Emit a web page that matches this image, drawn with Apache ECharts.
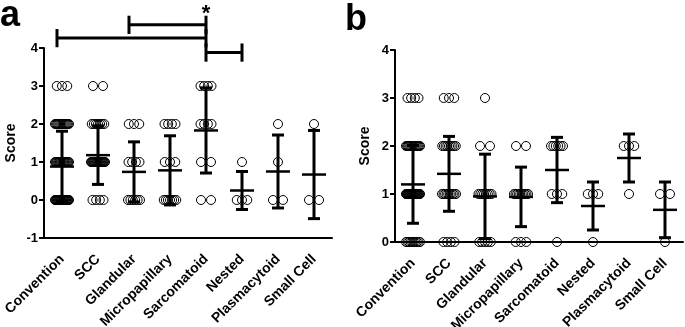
<!DOCTYPE html>
<html lang="en">
<head>
  <meta charset="UTF-8">
  <title>Score by subtype</title>
  <script src="https://cdn.jsdelivr.net/npm/echarts@6/dist/echarts.min.js"></script>
  <style>
    html, body { margin: 0; padding: 0; background: #fff; }
    #main { width: 685px; height: 327px; }
  </style>
</head>
<body>
  <div id="main"></div>
  <script>
    // categories on both panels
    var categories = ['Convention', 'SCC', 'Glandular', 'Micropapillary', 'Sarcomatoid', 'Nested', 'Plasmacytoid', 'Small Cell'];
    // score levels that the cases can take
    var scoreLevels = [0, 1, 2, 3];

    // panel a: number of cases at score 0,1,2,3 for each category
    var countsA = [[25, 18, 14, 3], [4, 22, 7, 2], [6, 4, 3, 0], [7, 3, 4, 0], [2, 2, 4, 4], [3, 1, 0, 0], [2, 1, 1, 0], [2, 0, 1, 0]];
    var meanA = [0.88, 1.18, 0.74, 0.78, 1.83, 0.25, 0.75, 0.67];
    var sdA = [0.93, 0.77, 0.79, 0.91, 1.12, 0.50, 0.96, 1.16];

    // panel b
    var countsB = [[10, 28, 14, 4], [4, 10, 9, 3], [5, 8, 2, 1], [3, 10, 2, 0], [1, 3, 6, 0], [1, 3, 0, 0], [0, 1, 3, 0], [1, 2, 0, 0]];
    var meanB = [1.20, 1.42, 0.95, 0.94, 1.50, 0.75, 1.75, 0.67];
    var sdB = [0.81, 0.78, 0.88, 0.62, 0.68, 0.50, 0.50, 0.58];

    // y ticks
    var yTicksA = [-1, 0, 1, 2, 3, 4];
    var yTicksB = [0, 1, 2, 3, 4];

    // significance brackets on panel a: all start at Sarcomatoid
    var sigHub = 4;
    var sigPairs = [[2, 4.61], [0, 4.26], [5, 3.88]];
    var sigMark = '*';

    var FONT = 'Liberation Sans';
    var chart = echarts.init(document.getElementById('main'));

    // spread the cases that share a score side by side
    function dotData(counts) {
      var out = [];
      counts.forEach(function (row, c) {
        row.forEach(function (n, k) {
          var span = n < 2 ? 0 : Math.min(14, 9 + n * 0.5);
          for (var i = 0; i < n; i++) {
            var off = n < 2 ? 0 : -span / 2 + i * span / (n - 1);
            out.push([c, scoreLevels[k], off]);
          }
        });
      });
      return out;
    }

    function barData(mean, sd) {
      return categories.map(function (name, i) { return [i, mean[i], sd[i]]; });
    }

    function renderDot(params, api) {
      var p = api.coord([api.value(0), api.value(1)]);
      return {
        type: 'circle',
        shape: { cx: p[0] + api.value(2), cy: p[1], r: 4.5 },
        style: { fill: 'none', stroke: '#000', lineWidth: 1 }
      };
    }

    function renderBar(params, api) {
      var c = api.value(0), m = api.value(1), s = api.value(2);
      var mid = api.coord([c, m]);
      var top = api.coord([c, m + s])[1];
      var bot = api.coord([c, m - s])[1];
      var x = mid[0];
      var thick = { stroke: '#000', lineWidth: 3 };
      return {
        type: 'group',
        children: [
          { type: 'line', shape: { x1: x, y1: top, x2: x, y2: bot }, style: thick },
          { type: 'line', shape: { x1: x - 6, y1: top, x2: x + 6, y2: top }, style: thick },
          { type: 'line', shape: { x1: x - 6, y1: bot, x2: x + 6, y2: bot }, style: thick },
          { type: 'line', shape: { x1: x - 12, y1: mid[1], x2: x + 12, y2: mid[1] }, style: { stroke: '#000', lineWidth: 2.5 } }
        ]
      };
    }

    function renderSig(params, api) {
      var other = api.value(0), h = api.value(1);
      var hub = api.coord([sigHub, h]);
      var end = api.coord([other, h]);
      var ex = end[0] + (other < sigHub ? -5 : 0);
      var capUp = api.coord([other, h + 0.24])[1];
      var capDn = api.coord([other, h - 0.24])[1];
      var st = { stroke: '#000', lineWidth: 3 };
      var kids = [
        { type: 'line', shape: { x1: hub[0], y1: hub[1], x2: ex, y2: hub[1] }, style: st },
        { type: 'line', shape: { x1: ex, y1: capUp, x2: ex, y2: capDn }, style: st },
        { type: 'line', shape: { x1: hub[0], y1: capUp, x2: hub[0], y2: capDn }, style: st }
      ];
      if (params.dataIndex === 0) {
        kids.push({
          type: 'text', x: hub[0], y: capUp - 2,
          style: { text: sigMark, font: 'bold 22px "' + FONT + '"', fill: '#000', align: 'center', verticalAlign: 'middle' }
        });
      }
      return { type: 'group', children: kids };
    }

    function xAxisFor(gi) {
      return {
        type: 'category', gridIndex: gi, data: categories, boundaryGap: true,
        axisLine: { onZero: false, lineStyle: { color: '#000', width: 2 } },
        axisTick: { alignWithLabel: true, length: 5, lineStyle: { color: '#000', width: 2 } },
        axisLabel: {
          interval: 0, rotate: 45, margin: 19,
          color: '#000', fontFamily: FONT, fontWeight: 'bold', fontSize: 14
        },
        splitLine: { show: false }
      };
    }

    function yAxisFor(gi, ticks, gap) {
      return {
        type: 'value', gridIndex: gi, min: ticks[0], max: ticks[ticks.length - 1], interval: 1,
        name: 'Score', nameLocation: 'middle', nameGap: gap,
        nameTextStyle: { color: '#000', fontFamily: FONT, fontWeight: 'bold', fontSize: 14 },
        axisLine: { show: true, lineStyle: { color: '#000', width: 2 } },
        axisTick: { show: true, length: 5, lineStyle: { color: '#000', width: 2 } },
        axisLabel: { margin: 6, color: '#000', fontFamily: FONT, fontWeight: 'bold', fontSize: 13 },
        splitLine: { show: false }
      };
    }

    chart.setOption({
      animation: false,
      backgroundColor: '#fff',
      grid: [
        { left: 44, top: 48, width: 288, height: 190, containLabel: false, outerBoundsMode: 'none' },
        { left: 395, top: 50, width: 288, height: 192, containLabel: false, outerBoundsMode: 'none' }
      ],
      xAxis: [xAxisFor(0), xAxisFor(1)],
      yAxis: [yAxisFor(0, yTicksA, 26), yAxisFor(1, yTicksB, 23)],
      graphic: [
        { type: 'text', x: 0, y: -2, style: { text: 'a', font: 'bold 36px "' + FONT + '"', fill: '#000' } },
        { type: 'text', x: 345, y: 2, style: { text: 'b', font: 'bold 36px "' + FONT + '"', fill: '#000' } }
      ],
      series: [
        { type: 'custom', xAxisIndex: 0, yAxisIndex: 0, renderItem: renderDot, data: dotData(countsA), encode: { x: 0, y: 1 }, z: 2 },
        { type: 'custom', xAxisIndex: 0, yAxisIndex: 0, renderItem: renderBar, data: barData(meanA, sdA), encode: { x: 0, y: 1 }, z: 3 },
        { type: 'custom', xAxisIndex: 0, yAxisIndex: 0, renderItem: renderSig, data: sigPairs, encode: { x: 0, y: 1 }, clip: false, z: 3 },
        { type: 'custom', xAxisIndex: 1, yAxisIndex: 1, renderItem: renderDot, data: dotData(countsB), encode: { x: 0, y: 1 }, z: 2 },
        { type: 'custom', xAxisIndex: 1, yAxisIndex: 1, renderItem: renderBar, data: barData(meanB, sdB), encode: { x: 0, y: 1 }, z: 3 }
      ]
    });
  </script>
</body>
</html>
